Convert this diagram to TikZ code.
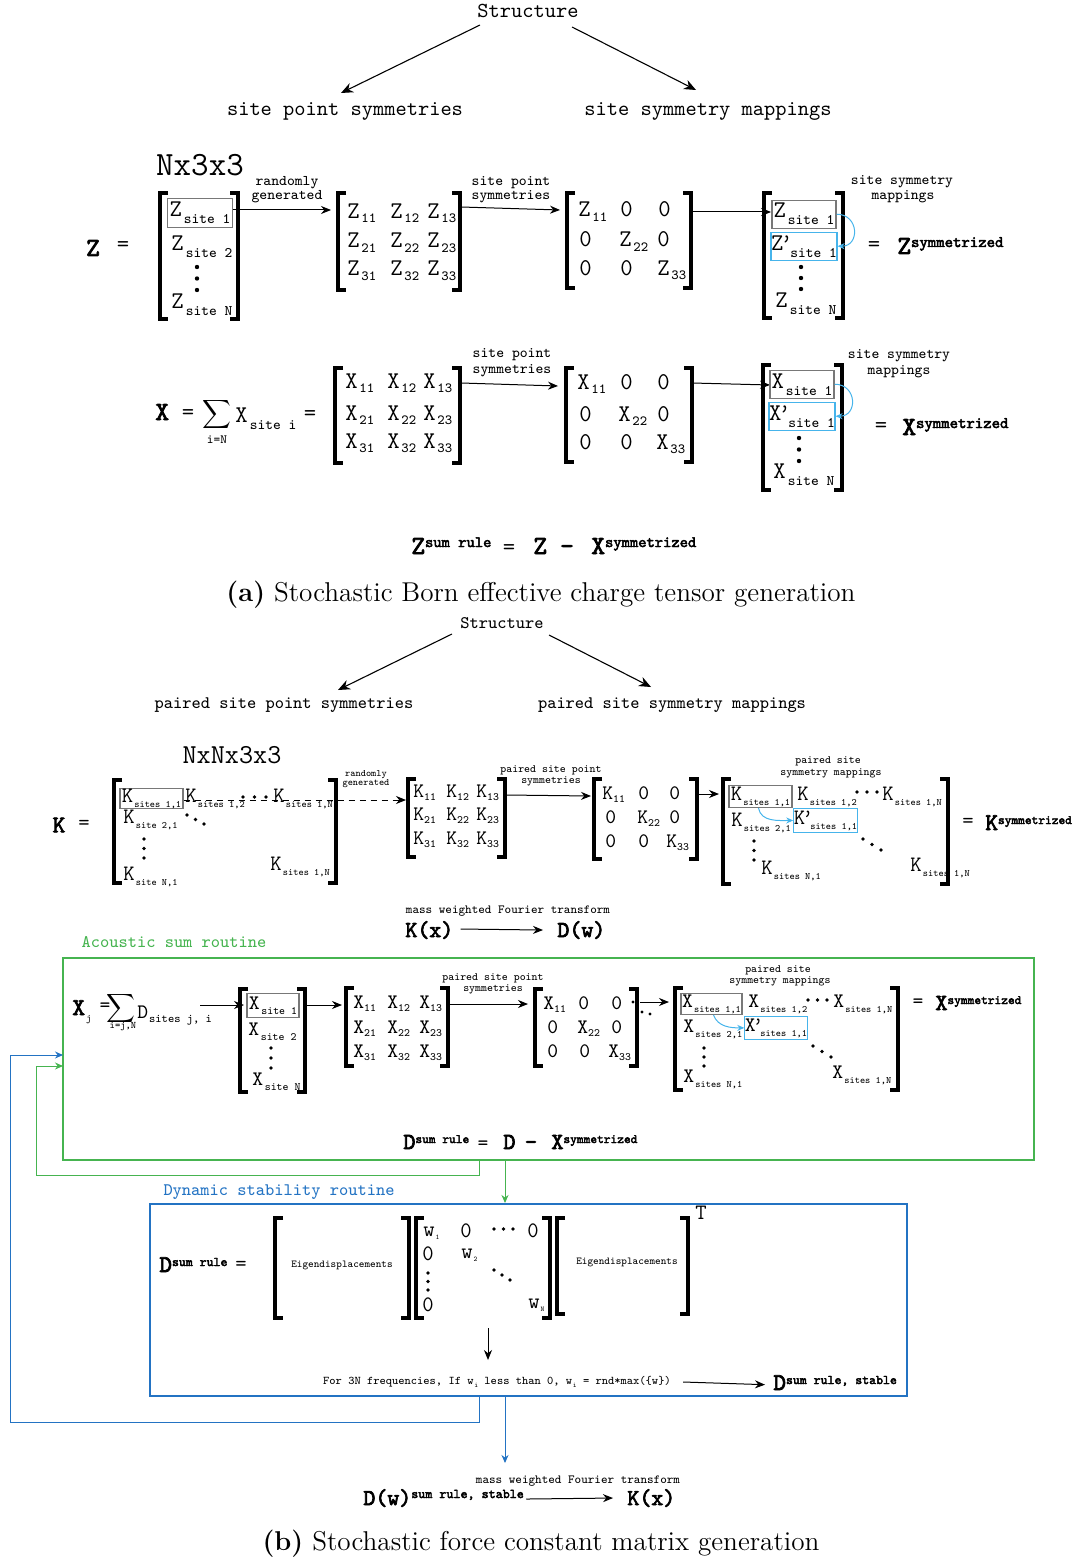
\documentclass[tikz,border=0pt]{standalone}
\usepackage{fontspec}
\usetikzlibrary{arrows.meta,calc}
\newfontfamily\bmono{lmmono10-regular}[Extension=.otf,FakeBold=3]
\definecolor{gline}{RGB}{70,180,80}
\definecolor{bline}{RGB}{35,115,195}
\definecolor{cline}{RGB}{70,180,235}
\definecolor{gbx}{RGB}{120,120,120}
\newcommand\fs[1]{\fontsize{#1}{#1}\selectfont}
\newcommand\sa[1]{\raisebox{-3.5pt}{\fs{7.3}\hspace{1pt}#1}}
\newcommand\sd[1]{\raisebox{-2pt}{\fs{7}\hspace{0.8pt}#1}}
\newcommand\sk[1]{\raisebox{-2.5pt}{\fs{4.9}\hspace{0.6pt}#1}}
\newcommand\skd[1]{\raisebox{-1.8pt}{\fs{5.6}#1}}
\newcommand\sg[1]{\raisebox{-2.5pt}{\fs{5.6}\hspace{0.8pt}#1}}
\newcommand\sw[1]{\raisebox{-1.5pt}{\fs{3.6}\hspace{0.4pt}#1}}
\newcommand\pr{\kern-1.5pt’\kern-2.2pt}
\newcommand\bsup[5]{{\bmono\fs{#1}#3\raisebox{#5}{\fs{#2}#4}}}
\newcommand\tdots[5]{\fill (#1,#2) circle[radius=#5] ({#1+#3},{#2+#4}) circle[radius=#5] ({#1+2*#3},{#2+2*#4}) circle[radius=#5];}
\newcommand\lbk[3]{\draw[brk] ({#1+8},#2) -- (#1,#2) -- (#1,#3) -- ({#1+8},#3);}
\newcommand\rbk[3]{\draw[brk] ({#1-8},#2) -- (#1,#2) -- (#1,#3) -- ({#1-8},#3);}
\begin{document}
\begin{tikzpicture}[x=0.5pt,y=-0.5pt,font=\ttfamily,inner sep=0pt,
  brk/.style={line width=1.7pt},
  arr/.style={-{Stealth[length=5pt,width=4pt]},line width=0.5pt},
  arrbig/.style={-{Stealth[length=6pt,width=5pt]},line width=0.55pt},
  carr/.style={-{Stealth[length=3.5pt,width=3pt]},line width=0.5pt,color=cline},
  garr/.style={-{Stealth[length=4pt,width=3.5pt]},line width=0.5pt,color=gline},
  barr/.style={-{Stealth[length=4pt,width=3.5pt]},line width=0.5pt,color=bline},
  gbox/.style={draw=gbx,line width=0.6pt},
  cbox/.style={draw=cline,line width=0.6pt},
  fa/.style={font=\ttfamily\fs{10.7}},
  fb/.style={font=\ttfamily\fs{8.8}},
  sla/.style={font=\ttfamily\fs{7.4}},
  slb/.style={font=\ttfamily\fs{5.6}},
  ea/.style={font=\ttfamily\fs{12}},
  eb/.style={font=\ttfamily\fs{11}},
  ek/.style={font=\ttfamily\fs{10.3}},
  eg/.style={font=\ttfamily\fs{10.3}},
  bo/.style={font=\bmono\fs{13}},
  bob/.style={font=\bmono\fs{11.4}}]
\useasboundingbox (0,0) rectangle (1078,1562);

% ================= (a) =================
\node[fa] (st1) at (528,11) {Structure};
\node[fa] (sps) at (345,111) {site point symmetries};
\node[fa] (ssm) at (708,111) {site symmetry mappings};
\coordinate (t1) at (480,25); \coordinate (t2) at (341,93);
\coordinate (t3) at (572,27); \coordinate (t4) at (696,90);
\draw[arrbig] (t1) -- (t2); \draw[arrbig] (t3) -- (t4);
\node[font=\ttfamily\fs{17}] (dima) at (200,165) {Nx3x3};

% Z row
\node[bo] (zL) at (93,248) {Z};
\node[ea] (zE) at (123,247) {=};
\node[ea,gbox,minimum width=32.5pt,minimum height=14.5pt,anchor=base] (zc1) at (200,217) {Z\sa{site 1}};
\node[ea,anchor=base west] (zc2) at (171,250) {Z\sa{site 2}};
\tdots{197}{267}{0}{11.5}{1.1pt}
\node[ea,anchor=base west] (zcn) at (171,308) {Z\sa{site N}};
\lbk{160}{193}{319}\rbk{238}{193}{319}
\node[sla] (rg1) at (287,183) {randomly};
\node[sla] (rg2) at (287,197) {generated};
\coordinate (za1) at (233,210); \coordinate (za2) at (331,210);
\draw[arr] (za1) -- (za2);
\lbk{338}{193}{290}\rbk{460}{193}{290}
\foreach \r/\yy in {1/219,2/248,3/276}{\foreach \c/\xx in {1/347,2/390,3/427}{
  \node[ea,anchor=base west] (zm\r\c) at (\xx,\yy) {Z\sd{\r\c}};}}
\node[sla] (sp1) at (511,183) {site point};
\node[sla] (sp2) at (511,197) {symmetries};
\coordinate (zb1) at (461,207); \coordinate (zb2) at (560,210); \draw[arr] (zb1) -- (zb2);
\lbk{567}{193}{288}\rbk{691}{193}{288}
\node[ea,anchor=base west] (zd11) at (578,217) {Z\sd{11}};
\node[ea,anchor=base west] (zd12) at (620,217) {0};
\node[ea,anchor=base west] (zd13) at (658,217) {0};
\node[ea,anchor=base west] (zd21) at (579,247) {0};
\node[ea,anchor=base west] (zd22) at (619,247) {Z\sd{22}};
\node[ea,anchor=base west] (zd23) at (657,247) {0};
\node[ea,anchor=base west] (zd31) at (579,275) {0};
\node[ea,anchor=base west] (zd32) at (620,275) {0};
\node[ea,anchor=base west] (zd33) at (657,275) {Z\sd{33}};
\coordinate (zc1a) at (692,212); \coordinate (zc2a) at (771,212); \draw[arr] (zc1a) -- (zc2a);
\node[ea,gbox,minimum width=32pt,minimum height=14pt,anchor=base] (zr1) at (804,218) {Z\sa{site 1}};
\node[ea,cbox,minimum width=32pt,minimum height=14pt,anchor=base] (zr2) at (804,250) {Z\pr\sa{site 1}};
\tdots{801}{267}{0}{11}{1.1pt}
\node[ea,anchor=base west] (zrn) at (775,307) {Z\sa{site N}};
\lbk{764}{193}{318}\rbk{843}{193}{318}
\draw[carr] (zr1.east) to[out=0,in=0,looseness=1.8] (zr2.east);
\node[sla] (sm1) at (902,182) {site symmetry};
\node[sla] (sm2) at (903,197) {mappings};
\node[ea] (zE2) at (874,247) {=};
\node[anchor=base west] (zsym) at (897,254) {\bsup{13}{8}{Z}{symmetrized}{3.5pt}};

% X row
\node[bo,anchor=base west] (xL) at (155,420) {X};
\node[ea] (xE) at (188,415) {=};
\node (xS) at (217,414) {\fs{12}$\displaystyle\sum$};
\node[font=\ttfamily\fs{6.3}] (xSi) at (217,440) {i=N};
\node[ea,anchor=base west] (xsi) at (235,422) {X\sa{site i}};
\node[ea] (xE2) at (310,416) {=};
\lbk{335}{368}{463}\rbk{460}{368}{463}
\foreach \r/\yy in {1/388,2/420,3/448}{\foreach \c/\xx in {1/345,2/387,3/423}{
  \node[ea,anchor=base west] (xm\r\c) at (\xx,\yy) {X\sd{\r\c}};}}
\node[sla] (xsp1) at (512,355) {site point};
\node[sla] (xsp2) at (512,371) {symmetries};
\coordinate (xa1) at (461,383); \coordinate (xa2) at (558,386); \draw[arr] (xa1) -- (xa2);
\lbk{566}{368}{462}\rbk{692}{368}{462}
\node[ea,anchor=base west] (xd11) at (577,389) {X\sd{11}};
\node[ea,anchor=base west] (xd12) at (620,389) {0};
\node[ea,anchor=base west] (xd13) at (657,389) {0};
\node[ea,anchor=base west] (xd21) at (579,421) {0};
\node[ea,anchor=base west] (xd22) at (618,421) {X\sd{22}};
\node[ea,anchor=base west] (xd23) at (657,421) {0};
\node[ea,anchor=base west] (xd31) at (579,449) {0};
\node[ea,anchor=base west] (xd32) at (620,449) {0};
\node[ea,anchor=base west] (xd33) at (656,449) {X\sd{33}};
\coordinate (xb1) at (692,383); \coordinate (xb2) at (770,385); \draw[arr] (xb1) -- (xb2);
\node[ea,gbox,minimum width=32pt,minimum height=14pt,anchor=base] (xr1) at (802,388) {X\sa{site 1}};
\node[ea,cbox,minimum width=32pt,minimum height=14pt,anchor=base] (xr2) at (802,420) {X\pr\sa{site 1}};
\tdots{799}{438}{0}{11.5}{1.1pt}
\node[ea,anchor=base west] (xrn) at (773,478) {X\sa{site N}};
\lbk{763}{365}{490}\rbk{842}{365}{490}
\draw[carr] (xr1.east) to[out=0,in=0,looseness=1.8] (xr2.east);
\node[sla] (xsm1) at (899,356) {site symmetry};
\node[sla] (xsm2) at (899,372) {mappings};
\node[ea] (xE3) at (881,428) {=};
\node[anchor=base west] (xsym) at (902,435) {\bsup{13}{8}{X}{symmetrized}{3.5pt}};

% Z sum rule
\node[anchor=base west] (zs1) at (411,554) {\bsup{13}{7.9}{Z}{sum rule}{3.5pt}};
\node[ea,anchor=base] (zs2) at (509,554) {=};
\node[bo,anchor=base west] (zs3) at (533,554) {Z};
\node[bo,anchor=base] (zs4) at (567,554) {-};
\node[anchor=base west] (zs5) at (591,554) {\bsup{13}{7.9}{X}{symmetrized}{3.5pt}};
\node[font=\rmfamily\fs{13.6}] (capa) at (541,595) {\textbf{(a)} Stochastic Born effective charge tensor generation};

% ================= (b) =================
\node[fb] (st2) at (502,623) {Structure};
\node[fb] (psps) at (284,705) {paired site point symmetries};
\node[fb] (pssm) at (672,705) {paired site symmetry mappings};
\coordinate (u1) at (452,634); \coordinate (u2) at (338,690);
\coordinate (u3) at (549,635); \coordinate (u4) at (651,687);
\draw[arrbig] (u1) -- (u2); \draw[arrbig] (u3) -- (u4);
\node[font=\ttfamily\fs{13.7}] (dimb) at (232,755) {NxNx3x3};

% K row
\node[font=\bmono\fs{12}] (kL) at (59,825) {K};
\node[eb] (kE) at (84,825) {=};
\node[eb,gbox,minimum width=31.5pt,minimum height=10pt,anchor=base] (k11) at (151.5,802) {K\sk{sites 1,1}};
\node[eb,anchor=base west] (k12) at (185,802) {K\sk{sites 1,2}};
\tdots{243}{797}{11.5}{0}{0.9pt}
\node[eb,anchor=base west] (k1n) at (273,802) {K\sk{sites 1,N}};
\node[eb,anchor=base west] (k21) at (123,823) {K\sk{site 2,1}};
\tdots{187}{815}{8.5}{4.5}{0.9pt}
\tdots{144}{839}{0}{9.5}{0.9pt}
\node[eb,anchor=base west] (kn1) at (123,880) {K\sk{site N,1}};
\node[eb,anchor=base west] (knn) at (270,870) {K\sk{sites 1,N}};
\lbk{114}{780}{883}\rbk{336}{780}{883}
\node[font=\ttfamily\fs{4.9}] (krg1) at (366,775) {randomly};
\node[font=\ttfamily\fs{4.9}] (krg2) at (366,784) {generated};
\coordinate (ka2) at (406,800);
\draw[arr,dash pattern=on 3pt off 2.5pt] (k11.east |- ka2) -- (ka2);
\lbk{408}{779}{857}\rbk{505}{779}{857}
\foreach \r/\yy in {1/797,2/820,3/844}{\foreach \c/\xx in {1/413,2/446,3/476}{
  \node[ek,anchor=base west] (km\r\c) at (\xx,\yy) {K\skd{\r\c}};}}
\node[slb] (ksp1) at (551,770) {paired site point};
\node[slb] (ksp2) at (551,781) {symmetries};
\coordinate (kb1) at (506,795); \coordinate (kb2) at (591,796); \draw[arr] (kb1) -- (kb2);
\lbk{594}{779}{859}\rbk{697}{779}{859}
\node[ek,anchor=base west] (kd11) at (602,799) {K\skd{11}};
\node[ek,anchor=base west] (kd12) at (638,799) {0};
\node[ek,anchor=base west] (kd13) at (669,799) {0};
\node[ek,anchor=base west] (kd21) at (605,823) {0};
\node[ek,anchor=base west] (kd22) at (637,823) {K\skd{22}};
\node[ek,anchor=base west] (kd23) at (669,823) {0};
\node[ek,anchor=base west] (kd31) at (605,847) {0};
\node[ek,anchor=base west] (kd32) at (638,847) {0};
\node[ek,anchor=base west] (kd33) at (666,847) {K\skd{33}};
\coordinate (kc1) at (698,794); \coordinate (kc2) at (719,794); \draw[arr] (kc1) -- (kc2);
\node[eb,gbox,minimum width=31.5pt,minimum height=11pt,anchor=base] (kg) at (760.5,800) {K\sk{sites 1,1}};
\node[eb,anchor=base west] (kr12) at (797,800) {K\sk{sites 1,2}};
\tdots{857}{792}{10}{0}{0.9pt}
\node[eb,anchor=base west] (kr1n) at (882,800) {K\sk{sites 1,N}};
\node[eb,anchor=base west] (kr21) at (731,826) {K\sk{sites 2,1}};
\node[eb,cbox,minimum width=31.5pt,minimum height=12pt,anchor=base] (kcy) at (825.5,824) {K\pr\sk{sites 1,1}};
\draw[carr] ($(kg.south)+(-2,0)$) to[out=-80,in=180] (kcy.west);
\tdots{754}{841}{0}{9.5}{0.9pt}
\node[eb,anchor=base west] (krn1) at (761,874) {K\sk{sites N,1}};
\tdots{863}{839}{9}{5.5}{0.9pt}
\node[eb,anchor=base west] (krnn) at (910,871) {K\sk{sites 1,N}};
\lbk{723}{779}{884}\rbk{948}{779}{884}
\node[slb] (ksm1) at (828,761) {paired site};
\node[slb] (ksm2) at (831,773) {symmetry mappings};
\node[eb] (kE2) at (968,823) {=};
\node[anchor=base west] (ksym) at (985,830) {\bsup{12}{6.4}{K}{symmetrized}{3pt}};

% Fourier
\node[font=\ttfamily\fs{6.2}] (mwf1) at (508,911) {mass weighted Fourier transform};
\node[bob,anchor=base west] (kx1) at (405,937) {K(x)};
\node[bob,anchor=base west] (dw1) at (557,937) {D(w)};
\draw[arr] (kx1.east) ++(7,-1) coordinate (f1) -- ($(dw1.west)+(-14,0)$) coordinate (f2);

% Acoustic sum routine
\node[fb,text=gline] (asr) at (174,942) {Acoustic sum routine};
\node[draw=gline,line width=0.6pt,minimum width=485.5pt,minimum height=101pt] (gB) at (548.5,1059) {};
\node[anchor=base west] (xj) at (72,1015) {{\bmono\fs{12}X}\raisebox{-3pt}{\fs{5}\hspace{0.5pt}j}};
\node[eg] (xjE) at (105,1007) {=};
\node (xjS) at (121,1008) {\fs{7.5}$\displaystyle\sum$};
\node[font=\ttfamily\fs{5}] (xjSi) at (123,1027) {i=j,N};
\node[eg,anchor=base west] (xjD) at (137,1018) {D\raisebox{-2pt}{\fs{5.9}\hspace{0.5pt}sites j, i}};
\coordinate (ga1) at (200,1005); \coordinate (ga2) at (244,1005); \draw[arr] (ga1) -- (ga2);
\node[eg,gbox,minimum width=26pt,minimum height=12pt,anchor=base] (gc1) at (273,1009) {X\sg{site 1}};
\node[eg,anchor=base west] (gc2) at (248,1035) {X\sg{site 2}};
\tdots{271}{1048}{0}{10}{0.9pt}
\node[eg,anchor=base west] (gcn) at (252,1085) {X\sg{site N}};
\lbk{240}{989}{1092}\rbk{305}{989}{1092}
\coordinate (gb1) at (306,1005); \coordinate (gb2) at (342,1005); \draw[arr] (gb1) -- (gb2);
\lbk{346}{988}{1066}\rbk{448}{988}{1066}
\foreach \r/\yy in {1/1008,2/1033,3/1057}{\foreach \c/\xx in {1/353,2/387,3/419}{
  \node[eg,anchor=base west] (gm\r\c) at (\xx,\yy) {X\skd{\r\c}};}}
\node[slb] (gsp1) at (493,978) {paired site point};
\node[slb] (gsp2) at (493,989) {symmetries};
\coordinate (gc1a) at (449,1004); \coordinate (gc2a) at (528,1004); \draw[arr] (gc1a) -- (gc2a);
\lbk{535}{989}{1066}\rbk{637}{989}{1066}
\node[eg,anchor=base west] (gd11) at (543,1009) {X\skd{11}};
\node[eg,anchor=base west] (gd12) at (578,1009) {0};
\node[eg,anchor=base west] (gd13) at (611,1009) {0};
\node[eg,anchor=base west] (gd21) at (547,1033) {0};
\node[eg,anchor=base west] (gd22) at (577,1033) {X\skd{22}};
\node[eg,anchor=base west] (gd23) at (611,1033) {0};
\node[eg,anchor=base west] (gd31) at (547,1057) {0};
\node[eg,anchor=base west] (gd32) at (579,1057) {0};
\node[eg,anchor=base west] (gd33) at (608,1057) {X\skd{33}};
\fill (633,1002) circle[radius=0.8pt] (642,1012) circle[radius=0.8pt] (650,1014) circle[radius=0.8pt];
\coordinate (gd1a) at (640,1002); \coordinate (gd2a) at (669,1002); \draw[arr] (gd1a) -- (gd2a);
\node[eg,gbox,minimum width=30.5pt,minimum height=10.5pt,anchor=base] (xg) at (711.5,1007) {X\sk{sites 1,1}};
\node[eg,anchor=base west] (xr12) at (748,1007) {X\sk{sites 1,2}};
\tdots{808}{1000}{9.5}{0}{0.9pt}
\node[eg,anchor=base west] (xr1n) at (833,1007) {X\sk{sites 1,N}};
\node[eg,anchor=base west] (xr21) at (683,1032) {X\sk{sites 2,1}};
\node[eg,cbox,minimum width=31pt,minimum height=11.5pt,anchor=base] (xcy) at (776,1031) {X\pr\sk{sites 1,1}};
\draw[carr] ($(xg.south)+(2,0)$) to[out=-70,in=180] (xcy.west);
\tdots{704}{1048}{0}{9}{0.9pt}
\node[eg,anchor=base west] (xrn1) at (683,1082) {X\sk{sites N,1}};
\tdots{813}{1046}{9}{5.5}{0.9pt}
\node[eg,anchor=base west] (xrnn) at (832,1078) {X\sk{sites 1,N}};
\lbk{675}{988}{1090}\rbk{898}{988}{1090}
\node[slb] (gsm1) at (778,970) {paired site};
\node[slb] (gsm2) at (780,981) {symmetry mappings};
\node[eg] (gE2) at (918,1003) {=};
\node[anchor=base west] (gsym) at (935,1010) {\bsup{11.5}{6.4}{X}{symmetrized}{3pt}};
\node[anchor=base west] (ds1) at (403,1149) {\bsup{11.5}{6.4}{D}{sum rule}{3pt}};
\node[eg,anchor=base] (ds2) at (483,1149) {=};
\node[font=\bmono\fs{11.5},anchor=base west] (ds3) at (503,1149) {D};
\node[font=\bmono\fs{11.5},anchor=base] (ds4) at (531,1149) {-};
\node[anchor=base west] (ds5) at (551,1149) {\bsup{11.5}{6.4}{X}{symmetrized}{3pt}};

% Dynamic stability routine
\node[fb,text=bline] (dsr) at (279,1192) {Dynamic stability routine};
\node[draw=bline,line width=0.6pt,minimum width=378.5pt,minimum height=96pt] (bB) at (528.5,1300) {};
\node[anchor=base west] (bd) at (159,1272) {\bsup{12}{6.6}{D}{sum rule}{3pt}};
\node[eb] (bE) at (241,1266) {=};
\lbk{275}{1218}{1318}\rbk{409}{1218}{1318}
\node[font=\ttfamily\fs{5.3}] (eig1) at (342,1265) {Eigendisplacements};
\lbk{416}{1218}{1318}\rbk{550}{1218}{1318}
\node[eb,anchor=base west] (w1) at (423,1236) {w\sw{1}};
\node[eb] (w12) at (466,1231) {0};
\tdots{494}{1229}{9.5}{0}{0.9pt}
\node[eb] (w1n) at (533,1231) {0};
\node[eb] (w21) at (428,1254) {0};
\node[eb,anchor=base west] (w2) at (461,1258) {w\sw{2}};
\tdots{428}{1273}{0}{8.5}{0.9pt}
\tdots{494}{1270}{8}{5}{0.9pt}
\node[eb] (wn1) at (428,1305) {0};
\node[eb,anchor=base west] (wn) at (528,1308) {w\sw{N}};
\lbk{557}{1218}{1314}\rbk{688}{1218}{1314}
\node[font=\ttfamily\fs{5.3}] (eig2) at (627,1262) {Eigendisplacements};
\node[eb] (bT) at (701,1213) {T};
\coordinate (v1) at (488,1328); \coordinate (v2) at (488,1360); \draw[arr] (v1) -- (v2);
\node[font=\ttfamily\fs{5.9}] (freq) at (497,1382) {For 3N frequencies, If w\sw{i} less than 0, w\sw{i} = rnd*max(\{w\})};
\node[anchor=base west] (dst) at (773,1390) {\bsup{12}{6.6}{D}{sum rule, stable}{3pt}};
\draw[arr] ($(freq.east)+(12,0)$) coordinate (h1) -- ($(dst.west)+(-8,2)$) coordinate (h2);

% loops
\coordinate (g1) at (479,1160); \coordinate (g2) at (63,1066);
\draw[garr] (g1) -- (479,1175) -- (36,1175) -- (36,1066) -- (g2);
\coordinate (g3) at (505,1160); \coordinate (g4) at (505,1203);
\draw[garr] (g3) -- (g4);
\coordinate (b1) at (479,1396); \coordinate (b2) at (63,1055);
\draw[barr] (b1) -- (479,1422) -- (10,1422) -- (10,1055) -- (b2);
\coordinate (b3) at (505,1396); \coordinate (b4) at (505,1463);
\draw[barr] (b3) -- (b4);

% bottom
\node[font=\ttfamily\fs{6.2}] (mwf2) at (578,1481) {mass weighted Fourier transform};
\node[anchor=base west] (dwb) at (363,1505) {\bsup{11.4}{6.7}{D(w)}{sum rule, stable}{3.5pt}};
\node[bob,anchor=base west] (kxb) at (627,1505) {K(x)};
\draw[arr] ($(dwb.east)+(2,1)$) coordinate (e1) -- ($(kxb.west)+(-14,0)$) coordinate (e2);
\node[font=\rmfamily\fs{13.6}] (capb) at (541,1544) {\textbf{(b)} Stochastic force constant matrix generation};
\end{tikzpicture}
\end{document}
